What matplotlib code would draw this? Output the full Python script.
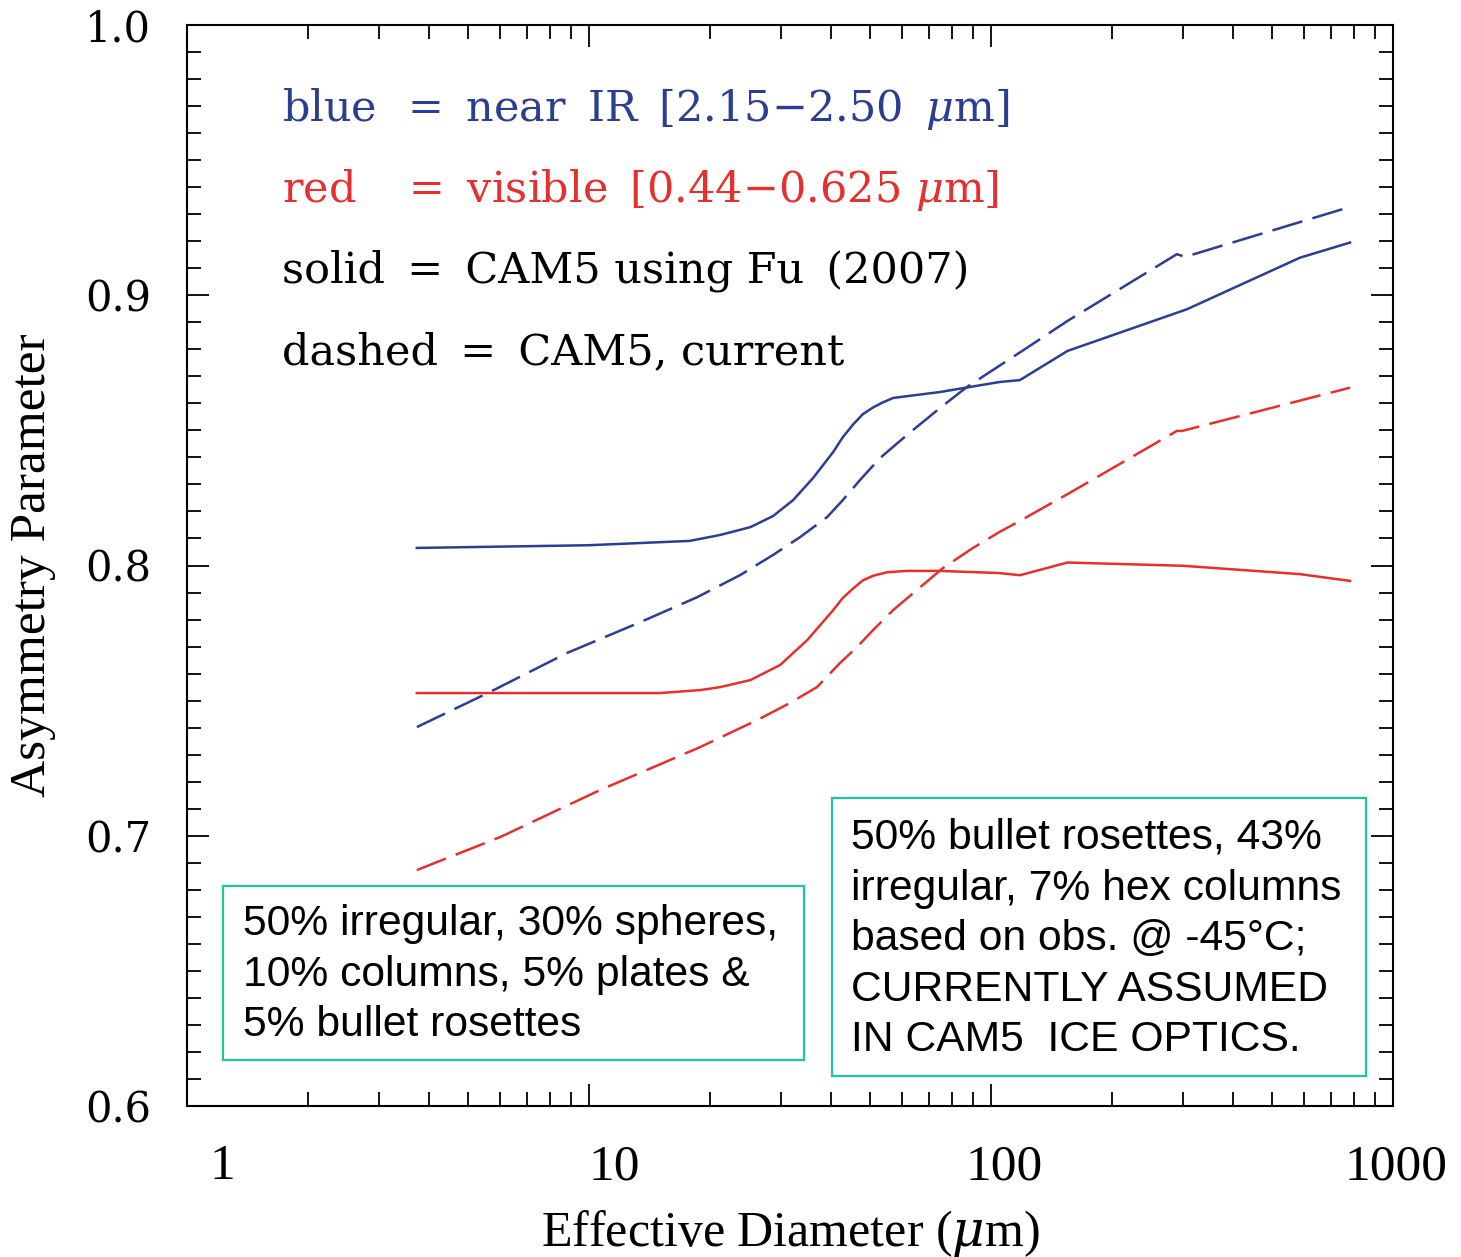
import numpy as np
import matplotlib
matplotlib.use("Agg")
import matplotlib.pyplot as plt
from matplotlib.patches import Rectangle
from matplotlib.ticker import MultipleLocator, NullFormatter, LogLocator
from matplotlib.transforms import ScaledTranslation

# effective diameter (um) and asymmetry parameter
ir_solid_d = [3.73, 10.0, 17.8, 21.2, 25.2, 28.7, 32.2, 36.1, 40.5, 42.8,
              45.4, 48.0, 50.9, 53.9, 57.1, 74.7, 105, 118, 155, 307, 587, 782]
ir_solid_g = [0.8065, 0.8075, 0.8091, 0.8113, 0.8142, 0.8183, 0.8242, 0.8324,
              0.8420, 0.8475, 0.8522, 0.8560, 0.8585, 0.8604, 0.8620, 0.8642,
              0.8679, 0.8686, 0.8794, 0.8948, 0.9139, 0.9195]
ir_dash_d = [3.73, 5.67, 8.81, 13.4, 18.6, 23.8, 28.7, 33.5, 39.1, 42.8,
             47.2, 53.0, 61.8, 74.7, 87.2, 123, 155, 290, 304, 782]
ir_dash_g = [0.7402, 0.7532, 0.7676, 0.7790, 0.7883, 0.7965, 0.8039, 0.8105,
             0.8179, 0.8242, 0.8316, 0.8398, 0.8483, 0.8583, 0.8661, 0.8806,
             0.8905, 0.9152, 0.9142, 0.9327]
vis_solid_d = [3.73, 15.0, 18.9, 21.2, 25.2, 29.9, 34.9, 40.5, 42.8, 45.4,
               48.0, 50.9, 55.1, 61.8, 74.7, 105, 118, 155, 300, 587, 782]
vis_solid_g = [0.7528, 0.7528, 0.7539, 0.7550, 0.7576, 0.7632, 0.7724, 0.7835,
               0.7880, 0.7915, 0.7945, 0.7962, 0.7975, 0.7980, 0.7980, 0.7972,
               0.7964, 0.8011, 0.7999, 0.7968, 0.7943]
vis_dash_d = [3.73, 6.01, 10.65, 18.9, 26.2, 31.6, 36.9, 42.1, 46.4, 50.9,
              57.1, 67.7, 76.0, 90.2, 105, 118, 155, 290, 299, 782]
vis_dash_g = [0.6873, 0.6995, 0.7169, 0.7328, 0.7428, 0.7491, 0.7550, 0.7639,
              0.7698, 0.7761, 0.7835, 0.7928, 0.7991, 0.8065, 0.8124, 0.8165,
              0.8264, 0.8498, 0.8498, 0.8658]

xticks = [1, 10, 100, 1000]
xtick_labels = ["1", "10", "100", "1000"]
yticks = [0.6, 0.7, 0.8, 0.9, 1.0]
ytick_labels = ["0.6", "0.7", "0.8", "0.9", "1.0"]

BLUE = "#2c3e91"
RED = "#e53030"
TEAL = "#1cc79c"

# word gaps in the key are wider than a normal space
S = " \u2009"
S2 = " \u2009\u2009"
legend_lines = [
    ("blue" + S2 + "=" + S + "near" + S + "IR" + S + r"[2.15$-$2.50" + S + r"$\mu$m]", BLUE, 121),
    ("red" + S2 + S + "=" + S + "visible" + S + r"[0.44$-$0.625" + " " + r"$\mu$m]", RED, 202),
    ("solid" + S + "=" + S + "CAM5" + " " + "using" + " " + "Fu" + S + "(2007)", "black", 283),
    ("dashed" + S + "=" + S + "CAM5," + " " + "current", "black", 364),
]
box_left = "50% irregular, 30% spheres,\n10% columns, 5% plates &\n5% bullet rosettes"
box_right = ("50% bullet rosettes, 43%\nirregular, 7% hex columns\n"
             "based on obs. @ -45\u00b0C;\nCURRENTLY ASSUMED\nIN CAM5  ICE OPTICS.")

W, H = 1461, 1257

plt.rcParams["mathtext.fontset"] = "dejavuserif"

fig = plt.figure(figsize=(W / 100, H / 100), dpi=100)
ax = fig.add_axes([187 / W, 1 - 1106 / H, (1393 - 187) / W, (1106 - 25) / H])

dash = (12.5, 4.2)
ax.plot(ir_solid_d, ir_solid_g, color=BLUE, lw=1.8)
ax.plot(ir_dash_d, ir_dash_g, color=BLUE, lw=1.8, dashes=dash)
ax.plot(vis_solid_d, vis_solid_g, color=RED, lw=1.8)
ax.plot(vis_dash_d, vis_dash_g, color=RED, lw=1.8, dashes=dash)

ax.set_xscale("log")
ax.set_xlim(1, 1000)
ax.set_ylim(0.6, 1.0)
ax.set_xticks(xticks)
ax.set_xticklabels(xtick_labels, family="Liberation Serif", fontsize=37)
ax.xaxis.set_minor_locator(LogLocator(base=10, subs=np.arange(2, 10)))
ax.xaxis.set_minor_formatter(NullFormatter())
ax.set_yticks(yticks)
ax.set_yticklabels(ytick_labels, family="DejaVu Serif", fontsize=30)
ax.yaxis.set_minor_locator(MultipleLocator(0.01))
ax.tick_params(which="both", direction="in", top=True, right=True,
               width=1.3, color="black")
ax.tick_params(which="major", length=16)
ax.tick_params(which="minor", length=10)
ax.tick_params(axis="x", which="major", pad=27)
ax.tick_params(axis="y", which="major", pad=26)
for sp in ax.spines.values():
    sp.set_linewidth(1.5)

# the x labels sit a bit right of their ticks in the original
for lab, dx in zip(ax.get_xticklabels(), [35, 25, 13, 3]):
    lab.set_transform(lab.get_transform() + ScaledTranslation(dx / 100, 0, fig.dpi_scale_trans))

fig.text(790 / W, 1 - 1246 / H, r"Effective Diameter ($\mu$m)",
         family="Liberation Serif", fontsize=36, ha="center", va="baseline")
fig.text(33 / W, 1 - 565 / H, "Asymmetry Parameter", family="Liberation Serif",
         fontsize=37, rotation=90, ha="center", va="center")

for txt, col, yb in legend_lines:
    fig.text(282 / W, 1 - yb / H, txt, color=col, family="DejaVu Serif",
             fontsize=31, ha="left", va="baseline")

# annotation boxes
for (x0, y0, x1, y1) in [(223, 886, 804, 1060), (832, 798, 1366, 1076)]:
    fig.patches.append(Rectangle((x0 / W, 1 - y1 / H), (x1 - x0) / W, (y1 - y0) / H,
                                 transform=fig.transFigure, fill=False,
                                 edgecolor=TEAL, lw=1.6))
fig.text(243 / W, 1 - 904 / H, box_left, family="Liberation Sans", fontsize=30.7,
         ha="left", va="top", linespacing=1.34)
fig.text(851 / W, 1 - 818 / H, box_right, family="Liberation Sans", fontsize=30.7,
         ha="left", va="top", linespacing=1.34)

fig.savefig("out.png", dpi=100)
